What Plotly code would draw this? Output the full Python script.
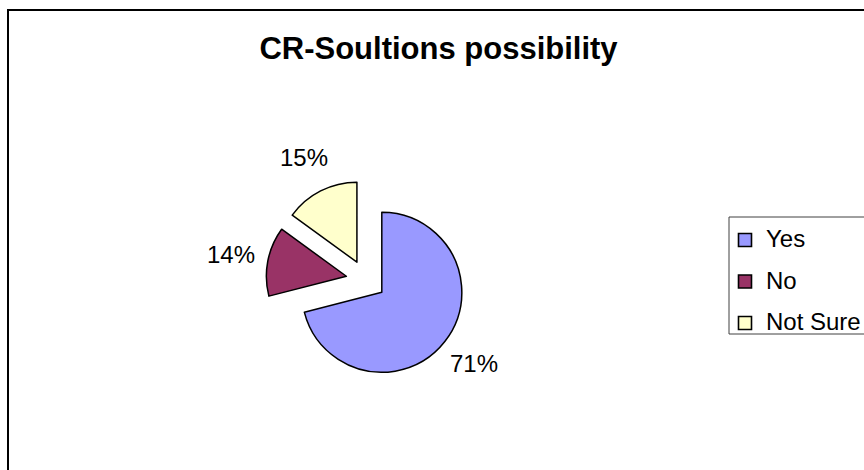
import math
import plotly.graph_objects as go

# Survey answers
categories = ["Yes", "No", "Not Sure"]
values = [71, 14, 15]
colors = ["#9999FF", "#993366", "#FFFFCC"]
title_text = "CR-Soultions possibility"

# Canvas and layout constants (pixels)
W, H = 864, 470
FONT = "Liberation Sans, Arial, sans-serif"
cx, cy = 366, 280          # pie centre
radius = 80                # slice radius
pull = 0.25                # explosion as fraction of radius
label_dist = 137           # centre -> percentage label distance

def px_x(x):
    return x / W

def px_y(y):
    return 1 - y / H

half = radius * (1 + pull)

fig = go.Figure(
    go.Pie(
        labels=categories,
        values=values,
        sort=False,
        direction="clockwise",
        rotation=0,
        pull=[pull] * len(values),
        marker=dict(colors=colors, line=dict(color="black", width=1.5)),
        textinfo="none",
        hoverinfo="label+percent",
        showlegend=False,
        domain=dict(
            x=[px_x(cx - half), px_x(cx + half)],
            y=[px_y(cy + half), px_y(cy - half)],
        ),
    )
)

annotations = []
shapes = []

# Percentage labels placed outside each slice along its mid-angle
total = sum(values)
start = 0.0
for v in values:
    frac = v / total
    mid = (start + frac / 2) * 2 * math.pi
    start += frac
    lx = cx + label_dist * math.sin(mid)
    ly = cy - label_dist * math.cos(mid)
    annotations.append(dict(
        x=px_x(lx), y=px_y(ly), xref="paper", yref="paper",
        text=f"{round(100 * frac)}%", showarrow=False,
        xanchor="center", yanchor="middle",
        font=dict(family=FONT, size=24, color="black"),
    ))

# Outer chart frame
shapes.append(dict(
    type="rect", xref="paper", yref="paper",
    x0=px_x(8), x1=px_x(W + 40), y0=px_y(H + 40), y1=px_y(10),
    line=dict(color="black", width=2), fillcolor="rgba(0,0,0,0)",
))

# Legend box with swatches
leg_left, leg_top, leg_bottom = 729, 217, 334
shapes.append(dict(
    type="rect", xref="paper", yref="paper",
    x0=px_x(leg_left), x1=px_x(W + 40), y0=px_y(leg_bottom), y1=px_y(leg_top),
    line=dict(color="#404040", width=1), fillcolor="white",
))
item_y0, item_step = 240, 41.5
sw = 6.5
for i, (name, col) in enumerate(zip(categories, colors)):
    yc = item_y0 + i * item_step
    shapes.append(dict(
        type="rect", xref="paper", yref="paper",
        x0=px_x(745 - sw), x1=px_x(745 + sw),
        y0=px_y(yc + sw), y1=px_y(yc - sw),
        line=dict(color="black", width=1.6), fillcolor=col,
    ))
    annotations.append(dict(
        x=px_x(764), y=px_y(yc - 1.5), xref="paper", yref="paper",
        text=name, showarrow=False, xanchor="left", yanchor="middle",
        font=dict(family=FONT, size=24, color="black"),
    ))

fig.update_layout(
    width=W, height=H,
    margin=dict(l=0, r=0, t=0, b=0),
    paper_bgcolor="white",
    plot_bgcolor="white",
    title=dict(
        text=f"<b>{title_text}</b>",
        x=px_x(438.5), xanchor="center",
        y=px_y(48), yanchor="middle",
        font=dict(family=FONT, size=31, color="black"),
    ),
    annotations=annotations,
    shapes=shapes,
)

fig.write_html("out.html")
